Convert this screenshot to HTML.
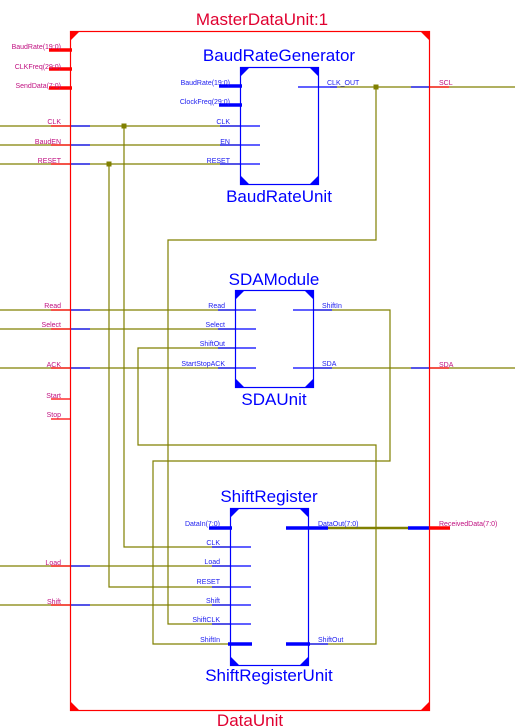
<!DOCTYPE html>
<html><head><meta charset="utf-8"><style>
html,body{margin:0;padding:0;background:#fff;}
svg{display:block;font-family:"Liberation Sans",Arial,sans-serif;}
.pl{font-size:7px;fill:#c01080;}
.bl{font-size:7px;fill:#2020f0;}
</style></head><body>
<svg width="515" height="728" viewBox="0 0 515 728" xmlns="http://www.w3.org/2000/svg">
<g fill="none" stroke-width="1.2">
<!-- olive wires -->
<g stroke="#808000">
<line x1="0" y1="126" x2="240" y2="126"/>
<line x1="0" y1="145" x2="240" y2="145"/>
<line x1="0" y1="164" x2="240" y2="164"/>
<line x1="0" y1="310" x2="235" y2="310"/>
<line x1="0" y1="329" x2="235" y2="329"/>
<line x1="0" y1="368" x2="235" y2="368"/>
<line x1="0" y1="566" x2="230" y2="566"/>
<line x1="0" y1="605" x2="230" y2="605"/>
<line x1="330" y1="87" x2="515" y2="87"/>
<line x1="313" y1="368" x2="515" y2="368"/>
<polyline points="376,87 376,240 168,240 168,624 230,624"/>
<polyline points="124,126 124,547 230,547"/>
<polyline points="109,164 109,587 230,587"/>
<polyline points="313,310 390,310 390,461 153,461 153,644 230,644"/>
<polyline points="235,348 138,348 138,445 376,445 376,644 308,644"/>
<line x1="328" y1="528" x2="410" y2="528" stroke-width="2.5"/>
</g>
<rect x="121.5" y="123.5" width="5" height="5" fill="#808000" stroke="none"/>
<rect x="106.5" y="161.5" width="5" height="5" fill="#808000" stroke="none"/>
<rect x="373.5" y="84.5" width="5" height="5" fill="#808000" stroke="none"/>
<!-- blue segments at frame -->
<g stroke="#0000ff">
<line x1="70" y1="126" x2="90" y2="126"/><line x1="70" y1="145" x2="90" y2="145"/><line x1="70" y1="164" x2="90" y2="164"/>
<line x1="70" y1="310" x2="90" y2="310"/><line x1="70" y1="329" x2="90" y2="329"/><line x1="70" y1="368" x2="90" y2="368"/>
<line x1="70" y1="566" x2="90" y2="566"/><line x1="70" y1="605" x2="90" y2="605"/>
<line x1="411" y1="87" x2="430" y2="87"/><line x1="411" y1="368" x2="430" y2="368"/>
<line x1="408" y1="528" x2="430" y2="528" stroke-width="3.5"/>
</g>
<!-- red stubs -->
<g stroke="#ff0000">
<line x1="49" y1="50" x2="72" y2="50" stroke-width="3.5"/>
<line x1="49" y1="69" x2="72" y2="69" stroke-width="3.5"/>
<line x1="49" y1="88" x2="72" y2="88" stroke-width="3.5"/>
<line x1="51" y1="126" x2="70" y2="126"/><line x1="51" y1="145" x2="70" y2="145"/><line x1="51" y1="164" x2="70" y2="164"/>
<line x1="51" y1="310" x2="70" y2="310"/><line x1="51" y1="329" x2="70" y2="329"/><line x1="51" y1="368" x2="70" y2="368"/>
<line x1="51" y1="399" x2="70" y2="399"/><line x1="51" y1="419" x2="70" y2="419"/>
<line x1="51" y1="566" x2="70" y2="566"/><line x1="51" y1="605" x2="70" y2="605"/>
<line x1="430" y1="87" x2="449" y2="87"/><line x1="430" y1="368" x2="449" y2="368"/>
<line x1="430" y1="528" x2="450" y2="528" stroke-width="3.5"/>
<rect x="70.5" y="31.5" width="359" height="679"/>
</g>
<polygon points="70,31 80,31 70,41" fill="#ff0000"/>
<polygon points="430,31 420,31 430,41" fill="#ff0000"/>
<polygon points="430,711 420,711 430,701" fill="#ff0000"/>
<polygon points="70,711 80,711 70,701" fill="#ff0000"/>
<!-- Blocks -->
<g stroke="#0000ff">
<rect x="240.5" y="67.5" width="78" height="117"/>
<rect x="235.5" y="290.5" width="78" height="97"/>
<rect x="230.5" y="508.5" width="78" height="157"/>
<!-- baud ports -->
<line x1="219" y1="86" x2="242" y2="86" stroke-width="3.5"/>
<line x1="219" y1="105" x2="242" y2="105" stroke-width="3.5"/>
<line x1="220" y1="126" x2="260" y2="126"/><line x1="220" y1="145" x2="260" y2="145"/><line x1="220" y1="164" x2="260" y2="164"/>
<line x1="298" y1="87" x2="337" y2="87"/>
<!-- sda ports -->
<line x1="218" y1="310" x2="256" y2="310"/><line x1="218" y1="329" x2="256" y2="329"/><line x1="218" y1="348" x2="256" y2="348"/><line x1="218" y1="368" x2="256" y2="368"/>
<line x1="293" y1="310" x2="332" y2="310"/><line x1="293" y1="368" x2="332" y2="368"/>
<!-- shift ports -->
<line x1="209" y1="528" x2="232" y2="528" stroke-width="3.5"/>
<line x1="286" y1="528" x2="328" y2="528" stroke-width="3.5"/>
<line x1="212" y1="547" x2="251" y2="547"/><line x1="212" y1="566" x2="251" y2="566"/><line x1="212" y1="587" x2="251" y2="587"/>
<line x1="212" y1="605" x2="251" y2="605"/><line x1="212" y1="624" x2="251" y2="624"/>
<line x1="228" y1="644" x2="252" y2="644" stroke-width="3.5"/>
<line x1="286" y1="644" x2="310" y2="644" stroke-width="3.5"/>
<line x1="310" y1="644" x2="328" y2="644"/>
</g>
</g>
<g fill="#0000ff">
<polygon points="240,67 250,67 240,77"/><polygon points="319,67 309,67 319,77"/><polygon points="240,185 250,185 240,175"/><polygon points="319,185 309,185 319,175"/>
<polygon points="235,290 245,290 235,300"/><polygon points="314,290 304,290 314,300"/><polygon points="235,388 245,388 235,378"/><polygon points="314,388 304,388 314,378"/>
<polygon points="230,508 240,508 230,518"/><polygon points="309,508 299,508 309,518"/><polygon points="230,666 240,666 230,656"/><polygon points="309,666 299,666 309,656"/>
</g>
<!-- titles -->
<g text-anchor="middle">
<text x="262" y="25" font-size="17" fill="#e00030">MasterDataUnit:1</text>
<text x="250" y="726" font-size="17" fill="#e00030">DataUnit</text>
<text x="279" y="61" font-size="17" fill="#0000ff">BaudRateGenerator</text>
<text x="279" y="202" font-size="17" fill="#0000ff">BaudRateUnit</text>
<text x="274" y="285" font-size="17" fill="#0000ff">SDAModule</text>
<text x="274" y="405" font-size="17" fill="#0000ff">SDAUnit</text>
<text x="269" y="502" font-size="17" fill="#0000ff">ShiftRegister</text>
<text x="269" y="681" font-size="17" fill="#0000ff">ShiftRegisterUnit</text>
</g>
<!-- outer labels -->
<g text-anchor="end" class="pl">
<text x="61" y="49" class="pl">BaudRate(19:0)</text>
<text x="61" y="69" class="pl">CLKFreq(29:0)</text>
<text x="61" y="88" class="pl">SendData(7:0)</text>
<text x="61" y="124" class="pl">CLK</text>
<text x="61" y="144" class="pl">BaudEN</text>
<text x="61" y="163" class="pl">RESET</text>
<text x="61" y="308" class="pl">Read</text>
<text x="61" y="327" class="pl">Select</text>
<text x="61" y="367" class="pl">ACK</text>
<text x="61" y="398" class="pl">Start</text>
<text x="61" y="417" class="pl">Stop</text>
<text x="61" y="565" class="pl">Load</text>
<text x="61" y="604" class="pl">Shift</text>
</g>
<text x="439" y="85" class="pl">SCL</text>
<text x="439" y="367" class="pl">SDA</text>
<text x="439" y="526" class="pl">ReceivedData(7:0)</text>
<!-- inner labels -->
<g text-anchor="end">
<text x="230" y="85" class="bl">BaudRate(19:0)</text>
<text x="230" y="104" class="bl">ClockFreq(29:0)</text>
<text x="230" y="124" class="bl">CLK</text>
<text x="230" y="144" class="bl">EN</text>
<text x="230" y="163" class="bl">RESET</text>
<text x="225" y="308" class="bl">Read</text>
<text x="225" y="327" class="bl">Select</text>
<text x="225" y="346" class="bl">ShiftOut</text>
<text x="225" y="366" class="bl">StartStopACK</text>
<text x="220" y="526" class="bl">DataIn(7:0)</text>
<text x="220" y="545" class="bl">CLK</text>
<text x="220" y="564" class="bl">Load</text>
<text x="220" y="584" class="bl">RESET</text>
<text x="220" y="603" class="bl">Shift</text>
<text x="220" y="622" class="bl">ShiftCLK</text>
<text x="220" y="642" class="bl">ShiftIn</text>
</g>
<text x="327" y="85" class="bl">CLK_OUT</text>
<text x="322" y="308" class="bl">ShiftIn</text>
<text x="322" y="366" class="bl">SDA</text>
<text x="318" y="526" class="bl">DataOut(7:0)</text>
<text x="318" y="642" class="bl">ShiftOut</text>
</svg>
</body></html>
